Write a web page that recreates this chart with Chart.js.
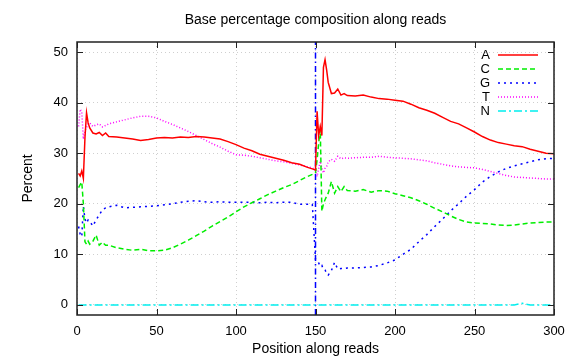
<!DOCTYPE html>
<html>
<head>
<meta charset="utf-8">
<script src="https://cdn.jsdelivr.net/npm/chart.js@4"></script>
<style>
  html, body { margin: 0; padding: 0; background: #fff; }
  #wrap { width: 576px; height: 360px; }
</style>
</head>
<body>
<div id="wrap"><canvas id="baseChart"></canvas></div>
<script>
// position along the read (reads 1 and 2 back to back)
const positions = [1,2,3,4,5,6,7,8,10,12,14,16,18,20,25,30,35,40,45,50,55,60,65,70,75,80,85,90,95,100,
  105,110,115,120,125,130,135,140,145,148,150,151,152,153,154,155,156,157,158,160,162,164,166,168,170,
  175,180,185,190,195,200,205,210,215,220,225,230,235,240,245,250,255,260,265,270,275,280,285,290,295,300];

const baseA = [26.0,25.5,26.5,25.0,33.0,38.0,36.0,35.0,34.0,33.8,34.1,33.5,34.0,33.3,33.2,33.0,32.8,32.5,32.7,33.0,
  33.1,33.0,33.2,33.1,33.3,33.2,33.0,32.8,32.3,31.7,31.0,30.5,29.8,29.4,29.0,28.6,28.1,27.8,27.2,26.9,26.7,
  38.3,33.5,35.3,33.5,47.0,48.5,46.5,44.0,41.8,41.9,42.7,41.5,41.8,41.4,41.3,41.5,41.1,40.8,40.7,40.5,40.3,
  39.7,39.0,38.5,37.9,37.1,36.3,35.8,35.0,34.2,33.3,32.6,32.1,31.8,31.5,31.3,30.8,30.4,30.0,29.9];

const baseC = [23.2,23.8,24.3,20.0,12.5,12.0,12.6,12.0,12.6,13.8,11.8,12.4,11.8,11.8,11.3,11.0,10.8,11.0,10.7,10.7,
  10.8,11.3,12.0,12.8,13.7,14.6,15.6,16.5,17.4,18.4,19.4,20.2,21.0,21.8,22.5,23.2,23.8,24.6,25.4,25.8,26.2,
  28.7,32.0,34.7,18.5,20.0,20.8,21.5,22.1,24.4,22.1,23.4,22.4,23.4,22.6,22.5,22.8,22.3,22.6,22.5,22.0,21.6,
  21.2,20.6,19.9,19.1,18.4,17.6,16.9,16.4,16.2,16.1,16.0,15.8,15.7,15.8,16.0,16.2,16.3,16.4,16.4];

const baseG = [15.5,14.0,13.5,19.5,17.0,16.2,16.8,16.5,15.6,16.8,17.8,18.8,19.2,19.4,19.7,19.2,19.3,19.4,19.5,19.6,
  19.8,20.0,20.3,20.5,20.6,20.4,20.3,20.4,20.3,20.3,20.3,20.3,20.2,20.3,20.2,20.3,20.3,19.9,19.9,19.9,9.0,
  8.9,8.3,7.6,7.8,7.0,6.9,6.3,5.9,6.8,8.4,7.1,7.2,7.2,7.3,7.3,7.4,7.5,7.8,8.3,8.9,10.0,
  11.0,12.5,13.9,15.5,17.0,18.6,20.0,21.5,22.8,24.3,25.4,26.3,27.0,27.5,27.9,28.3,28.7,28.9,29.0];

const baseT = [35.3,38.7,38.2,32.8,34.5,35.0,35.8,36.0,35.3,35.6,35.8,35.2,35.5,35.8,36.2,36.6,37.0,37.3,37.3,37.0,
  36.3,35.7,35.0,34.3,33.5,32.7,31.9,31.2,30.4,29.7,29.6,29.4,29.1,28.8,28.5,28.3,28.0,27.7,27.3,27.1,26.7,
  25.4,27.0,28.4,27.0,26.1,27.0,27.4,28.3,28.8,28.4,29.4,28.9,29.1,29.0,29.1,29.2,29.2,29.4,29.2,29.1,29.0,
  28.9,28.7,28.5,28.1,27.8,27.5,27.3,27.2,27.1,26.8,26.4,26.0,25.6,25.3,25.2,25.1,25.0,24.9,24.9];

const baseN = [0,0,0,0,0,0,0,0,0,0,0,0,0,0,0,0,0,0,0,0,
  0,0,0,0,0,0,0,0,0,0,0,0,0,0,0,0,0,0,0,0,0,
  0,0,0,0,0,0,0,0,0,0,0,0,0,0,0,0,0,0,0,0,0,
  0,0,0,0,0,0,0,0,0,0,0,0,0,0,0.3,0,0,0,0,0];

const baseLabels = ["A", "C", "G", "T", "N"];
const xTicks = [0, 50, 100, 150, 200, 250, 300];
const yTicks = [0, 10, 20, 30, 40, 50];
const readBoundary = 150;
const xRange = [0, 300];
const yRange = [-2, 52];

const FONT = "'Liberation Sans', Arial, sans-serif";

function toPoints(values) {
  return values.map((v, i) => ({ x: positions[i], y: v }));
}

const styles = [
  { color: "#ff0000", dash: [] },
  { color: "#00ee00", dash: [5, 3] },
  { color: "#0000ff", dash: [2, 4] },
  { color: "#ff00ff", dash: [1, 2] },
  { color: "#00eeee", dash: [8, 3, 2, 3] },
];
const series = [baseA, baseC, baseG, baseT, baseN];

const datasets = series.map((vals, i) => ({
  label: baseLabels[i],
  data: toPoints(vals),
  borderColor: styles[i].color,
  borderDash: styles[i].dash,
  borderWidth: 1.5,
  pointRadius: 0,
  tension: 0,
  fill: false,
}));

// boundary between read 1 and read 2
datasets.push({
  label: "boundary",
  data: [{ x: readBoundary, y: yRange[0] }, { x: readBoundary, y: yRange[1] }],
  borderColor: "#0000ff",
  borderDash: [6, 3, 1.5, 3],
  borderWidth: 1.5,
  pointRadius: 0,
  fill: false,
});

const gnuplotFrame = {
  id: "gnuplotFrame",
  afterDraw(chart) {
    const { ctx, chartArea: a, scales } = chart;
    ctx.save();
    ctx.setLineDash([]);
    ctx.strokeStyle = "#222";
    ctx.lineWidth = 1.5;
    ctx.strokeRect(a.left, a.top, a.right - a.left, a.bottom - a.top);

    // inward ticks on all four sides
    ctx.lineWidth = 1;
    ctx.beginPath();
    xTicks.forEach(v => {
      const px = Math.round(scales.x.getPixelForValue(v)) + 0.5;
      ctx.moveTo(px, a.bottom); ctx.lineTo(px, a.bottom - 6);
      ctx.moveTo(px, a.top); ctx.lineTo(px, a.top + 6);
    });
    yTicks.forEach(v => {
      const py = Math.round(scales.y.getPixelForValue(v)) + 0.5;
      ctx.moveTo(a.left, py); ctx.lineTo(a.left + 6, py);
      ctx.moveTo(a.right, py); ctx.lineTo(a.right - 6, py);
    });
    ctx.stroke();

    // texts
    ctx.fillStyle = "#000";
    ctx.font = "14px " + FONT;
    ctx.textAlign = "center";
    ctx.textBaseline = "middle";
    ctx.fillText("Base percentage composition along reads", (a.left + a.right) / 2, 20);
    ctx.fillText("Position along reads", (a.left + a.right) / 2, 349);
    ctx.save();
    ctx.translate(28, (a.top + a.bottom) / 2);
    ctx.rotate(-Math.PI / 2);
    ctx.fillText("Percent", 0, 0);
    ctx.restore();

    // key, inside the top right corner
    ctx.font = "13px " + FONT;
    ctx.lineWidth = 1.5;
    baseLabels.forEach((lab, i) => {
      const y = 55 + i * 14;
      ctx.textAlign = "right";
      ctx.fillStyle = "#000";
      ctx.fillText(lab, 490, y);
      ctx.strokeStyle = styles[i].color;
      ctx.setLineDash(styles[i].dash);
      ctx.beginPath();
      ctx.moveTo(498, y); ctx.lineTo(538, y);
      ctx.stroke();
    });
    ctx.restore();
  }
};

new Chart(document.getElementById("baseChart"), {
  type: "line",
  data: { datasets: datasets },
  options: {
    responsive: true,
    maintainAspectRatio: false,
    animation: false,
    layout: { padding: { top: 42, right: 22, left: 0, bottom: 0 } },
    plugins: {
      legend: { display: false },
      tooltip: { enabled: false },
    },
    scales: {
      x: {
        type: "linear",
        min: xRange[0],
        max: xRange[1],
        afterBuildTicks: s => { s.ticks = xTicks.map(v => ({ value: v })); },
        afterFit: s => { s.height = 45; },
        grid: { color: "#cfcfcf", lineWidth: 1, drawTicks: false },
        border: { display: false, dash: [1, 3] },
        ticks: { color: "#000", padding: 9, font: { size: 13, family: FONT }, maxRotation: 0 },
      },
      y: {
        min: yRange[0],
        max: yRange[1],
        afterBuildTicks: s => { s.ticks = yTicks.map(v => ({ value: v })); },
        afterFit: s => { s.width = 77; },
        grid: { color: "#cfcfcf", lineWidth: 1, drawTicks: false },
        border: { display: false, dash: [1, 3] },
        ticks: { color: "#000", padding: 9, font: { size: 13, family: FONT } },
      },
    },
  },
  plugins: [gnuplotFrame],
});
</script>
</body>
</html>
